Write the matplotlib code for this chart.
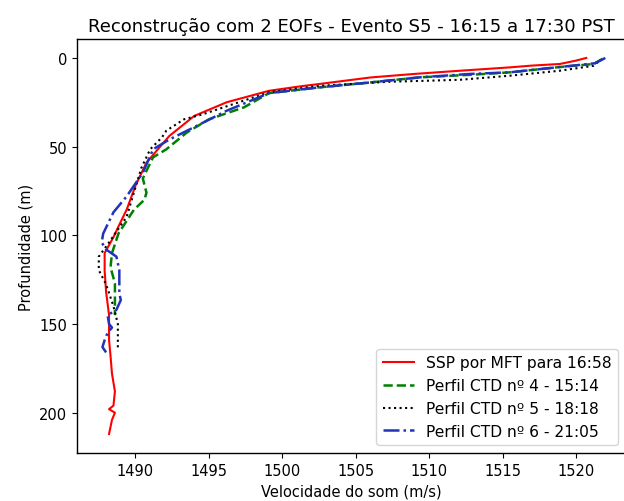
import numpy as np
import matplotlib.pyplot as plt

# SSP reconstruido por MFT (16:58)
mft_vel = [1520.7, 1520.0, 1518.9, 1517.0, 1515.5, 1512.1, 1509.0, 1506.0, 1502.5, 1501.4,
           1499.1, 1496.2, 1494.0, 1492.3, 1490.75, 1490.0, 1489.4, 1488.9, 1488.5, 1487.9,
           1487.9, 1488.0, 1488.2, 1488.2, 1488.3, 1488.4, 1488.6, 1488.5, 1488.2, 1488.6,
           1488.4, 1488.2]
mft_dep = [0, 1.5, 3.4, 4.3, 5.3, 7.2, 9.0, 11.0, 14.7, 15.8,
           18.5, 25.0, 32.7, 44.0, 59.0, 72.0, 85.5, 94.0, 101.0, 110.0,
           120.0, 132.0, 145.0, 159.0, 168.0, 178.0, 188.0, 196.0, 198.0, 200.0,
           204.0, 212.0]

# Perfil CTD 4 - 15:14
ctd4_vel = [1521.8, 1521.2, 1518.9, 1515.5, 1512.8, 1509.4, 1506.0, 1502.5, 1499.1, 1497.4,
            1495.0, 1493.5, 1492.1, 1491.2, 1490.9, 1490.5, 1490.75, 1490.6, 1489.9, 1488.85,
            1488.4, 1488.3, 1488.6, 1488.6, 1488.6, 1488.6]
ctd4_dep = [0.5, 3.4, 5.1, 8.1, 9.5, 10.9, 13.8, 16.6, 19.8, 27.8,
            34.6, 42.0, 51.5, 56.0, 61.0, 68.0, 76.0, 80.0, 85.5, 98.8,
            110.0, 118.0, 127.0, 135.0, 140.0, 145.0]

# Perfil CTD 5 - 18:18
ctd5_vel = [1521.5, 1521.2, 1518.9, 1515.5, 1512.1, 1510.0, 1507.3, 1502.5, 1499.1, 1494.6,
            1493.3, 1492.1, 1491.8, 1491.0, 1490.4, 1489.4, 1488.2, 1487.5, 1487.5, 1487.9,
            1488.1, 1488.5, 1488.8, 1488.8, 1488.8]
ctd5_dep = [2.3, 4.4, 7.2, 10.0, 12.3, 12.8, 13.4, 15.7, 19.3, 31.7,
            34.6, 41.0, 44.8, 51.5, 62.0, 89.5, 104.0, 112.0, 119.6, 126.0,
            130.0, 140.0, 150.0, 158.0, 165.0]

# Perfil CTD 6 - 21:05
ctd6_vel = [1522.0, 1521.3, 1518.9, 1515.5, 1512.8, 1509.4, 1506.0, 1502.5, 1499.1, 1496.2,
            1494.0, 1492.3, 1491.2, 1490.5, 1489.4, 1488.5, 1487.8, 1487.7, 1488.0, 1488.7,
            1488.9, 1488.9, 1489.0, 1488.7, 1488.1, 1488.2, 1488.4, 1488.1, 1487.9, 1487.75,
            1488.0]
ctd6_dep = [0, 3.0, 5.1, 8.1, 9.0, 10.9, 13.8, 16.6, 19.8, 29.8,
            39.0, 46.0, 51.5, 64.7, 78.0, 87.0, 99.0, 104.0, 108.0, 112.0,
            119.6, 132.6, 136.5, 142.0, 145.0, 150.0, 152.0, 155.0, 159.0, 163.0,
            166.0]

fig = plt.figure(figsize=(6.24, 5.02), dpi=100)
# o eixo passa um pouco da borda direita, como no original recortado
ax = fig.add_axes([0.123, 0.096, 0.880, 0.824])

ax.plot(mft_vel, mft_dep, color='red', linestyle='-', lw=1.5, label='SSP por MFT para 16:58')
ax.plot(ctd4_vel, ctd4_dep, color='green', linestyle='--', lw=1.8, label='Perfil CTD nº 4 - 15:14')
ax.plot(ctd5_vel, ctd5_dep, color='black', linestyle=':', lw=1.5, label='Perfil CTD nº 5 - 18:18')
ax.plot(ctd6_vel, ctd6_dep, color='#2233bb', linestyle='-.', lw=1.8, label='Perfil CTD nº 6 - 21:05')

ax.set_xlim(1486.0, 1523.4)
ax.set_ylim(222.6, -10.6)
ax.set_xticks([1490, 1495, 1500, 1505, 1510, 1515, 1520])
ax.set_yticks([0, 50, 100, 150, 200])
ax.tick_params(labelsize=10.5)
for spine in ax.spines.values():
    spine.set_linewidth(1.0)

ax.set_title('Reconstrução com 2 EOFs - Evento S5 - 16:15 a 17:30 PST', fontsize=13.0)
ax.set_xlabel('Velocidade do som (m/s)', fontsize=10.5)
ax.set_ylabel('Profundidade (m)', fontsize=10.5)
ax.legend(loc='lower right', fontsize=11.2)

fig.savefig('out.png', dpi=100)
